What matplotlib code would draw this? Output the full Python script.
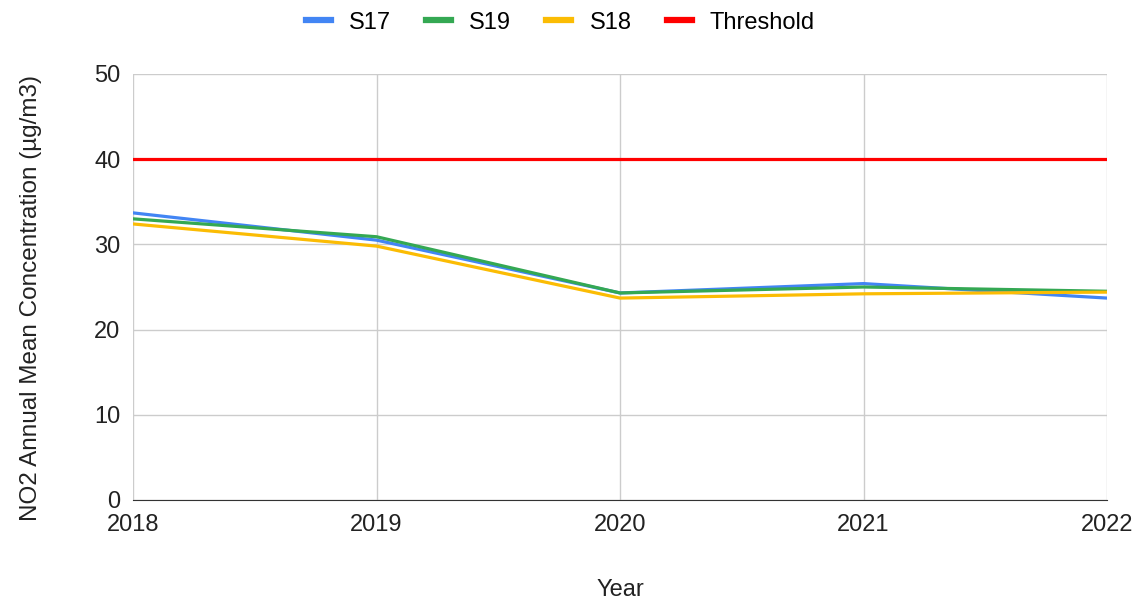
import matplotlib.pyplot as plt

# Дані
years = [2018, 2019, 2020, 2021, 2022]
s17 = [33.7, 30.5, 24.3, 25.4, 23.7]
s19 = [33.0, 30.9, 24.3, 25.0, 24.5]
s18 = [32.4, 29.8, 23.7, 24.2, 24.4]
threshold = [40, 40, 40, 40, 40]

plt.rcParams['font.family'] = ['Liberation Sans', 'DejaVu Sans']

fig = plt.figure(figsize=(11.41, 6.04), dpi=100)
ax = fig.add_axes([133 / 1141, 1 - 500 / 604, (1107 - 133) / 1141, (500 - 74) / 604])

ax.plot(years, s17, color='#4285f4', linewidth=2.3, label='S17')
ax.plot(years, s19, color='#34a853', linewidth=2.3, label='S19')
ax.plot(years, s18, color='#fbbc04', linewidth=2.3, label='S18')
ax.plot(years, threshold, color='#ff0000', linewidth=2.3, label='Threshold')

ax.set_xlim(2018, 2022)
ax.set_ylim(0, 50)
ax.set_xticks(years)
ax.set_yticks([0, 10, 20, 30, 40, 50])
ax.grid(color='#cccccc', linewidth=1)
ax.set_axisbelow(True)
for side in ['top', 'right', 'left']:
    ax.spines[side].set_visible(False)
ax.spines['bottom'].set_color('#333333')
ax.tick_params(axis='y', length=0, labelsize=17, colors='#222222', pad=9)
ax.tick_params(axis='x', length=0, labelsize=17, colors='#222222', pad=10)

ax.set_xlabel('Year', fontsize=17, color='#222222', labelpad=31)
ax.set_ylabel('NO2 Annual Mean Concentration (µg/m3)', fontsize=17.5, color='#222222')
ax.yaxis.set_label_coords(-0.093, 0.475)

leg = fig.legend(loc='upper center', bbox_to_anchor=(0.491, 1.016), ncol=4, frameon=False,
                 fontsize=17, handlelength=1.06, handletextpad=0.76, columnspacing=1.5)
for line in leg.get_lines():
    line.set_linewidth(4.5)

fig.savefig('out.png', dpi=100)
